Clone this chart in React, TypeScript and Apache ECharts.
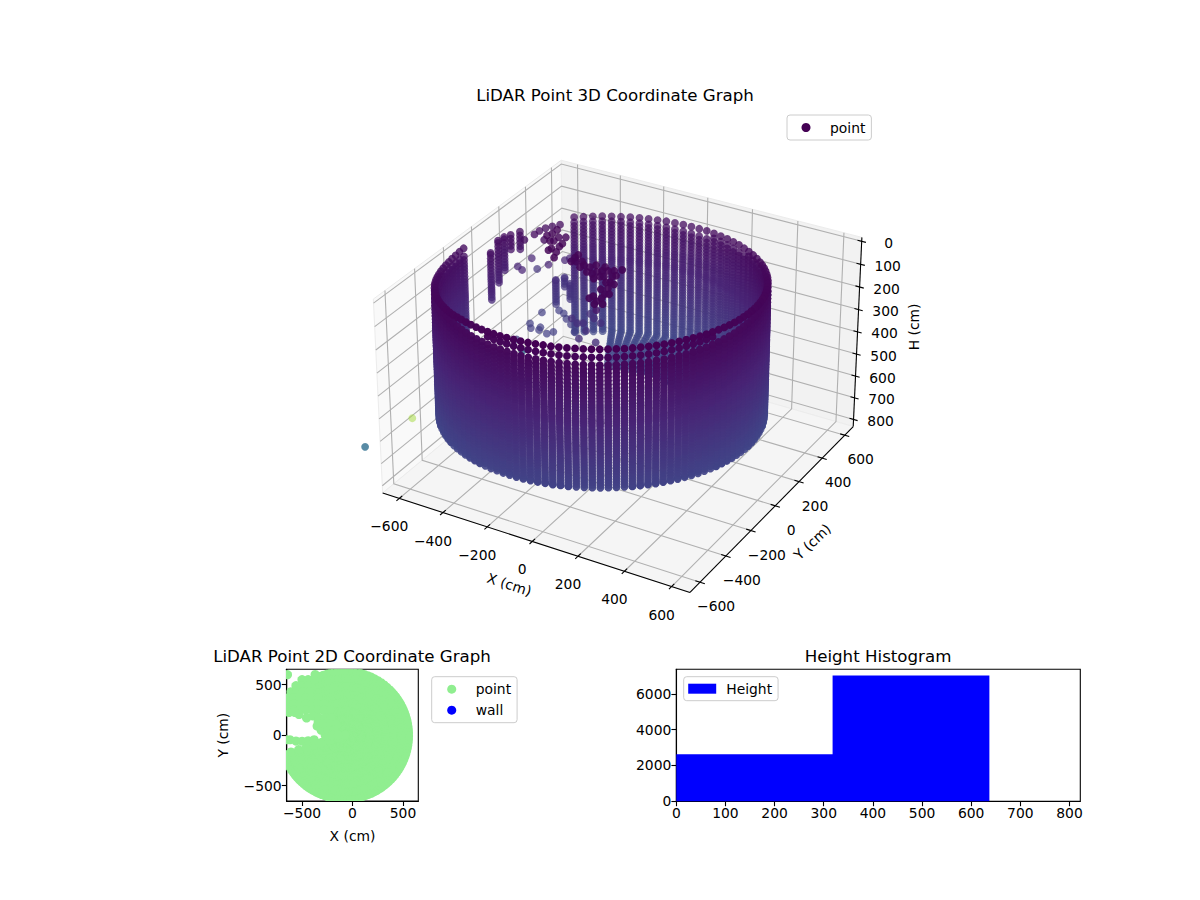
import { useEffect, useRef } from 'react'
import * as echarts from 'echarts'

const FONT = '"DejaVu Sans", sans-serif'
const LABEL_SIZE = 13.89

// 3D axis ticks and limits (cm), H runs downwards
const xyTicks = [-600, -400, -200, 0, 200, 400, 600]
const heightTicks = [0, 100, 200, 300, 400, 500, 600, 700, 800]
const XY_LIMIT = 677
const H_TOP = -17
const H_BOTTOM = 833

// wall columns: azimuth (deg), height of first and last row (cm)
const WALL_CENTER = [-90, -5]
const WALL_RADIUS = 635
const wallAzimuths = [
  130.2, 126.8, 123.4, 120.0, 116.6, 113.2, 109.8, 106.4, 103.0, 99.6, 96.2, 92.8, 89.4, 86.0, 82.6, 79.2,
  75.8, 72.4, 69.0, 65.6, 62.2, 58.8, 55.4, 52.0, 48.6, 45.2,
  42.5, 39.8, 37.1, 34.4, 31.7, 29.0, 26.3, 23.6, 20.9, 18.2, 15.5, 12.8, 10.1, 7.4, 4.7, 2.0,
  -0.7, -3.4, -6.1, -8.8, -11.5, -14.2, -16.9, -19.6, -22.3, -25.0, -27.7, -30.4, -33.1, -35.8, -38.5, -41.2,
  -43.9, -46.6, -49.3, -52.0, -54.7, -57.4, -60.1, -62.8, -65.5, -68.2, -70.9, -73.6, -76.3, -79.0, -81.7, -84.4,
  -87.1, -89.8, -92.5, -95.2, -97.9, -100.6, -103.3, -106.0, -108.7, -111.4, -114.1, -116.8, -119.5, -122.2, -124.9, -127.6,
  -130.3, -133.0, -135.7, -138.4, -141.1, -143.8, -146.5, -149.2, -151.9, -154.6, -157.3, -160.0, -162.7, -165.4, -168.1, -170.8,
  -173.5, -176.2, -178.9, -181.6
]
const wallRims = [
  109, 110, 110, 110, 110, 110, 109, 108, 108, 107, 105, 104, 102, 101, 99, 96,
  94, 92, 90, 87, 84, 82, 79, 76, 73, 70,
  67, 64, 62, 60, 57, 55, 52, 50, 47, 44, 42, 39, 37, 34, 32, 29,
  27, 25, 23, 21, 19, 17, 15, 13, 12, 10, 8, 7, 6, 5, 4, 3,
  2, 1, 1, 1, 0, 0, 0, 0, 0, 0, 1, 1, 2, 2, 3, 4,
  6, 7, 8, 10, 11, 13, 15, 17, 19, 21, 23, 27, 31, 35, 38, 42,
  46, 50, 54, 58, 63, 67, 71, 75, 80, 84, 88, 91, 94, 97, 99, 100,
  100, 100, 98, 96
]
const wallBases = [
  636, 636, 636, 636, 636, 636, 636, 636, 636, 636, 636, 636, 636, 636, 636, 636,
  636, 636, 636, 636, 636, 636, 636, 636, 636, 636,
  636, 636, 636, 636, 636, 635, 633, 631, 629, 627, 625, 623, 621, 619, 617, 615,
  613, 611, 609, 608, 606, 604, 603, 601, 600, 599, 597, 596, 595, 594, 593, 593,
  592, 591, 591, 590, 590, 590, 590, 590, 590, 590, 591, 591, 592, 592, 593, 594,
  595, 596, 597, 598, 599, 601, 602, 604, 605, 607, 609, 610, 612, 614, 616, 618,
  620, 622, 624, 627, 629, 631, 633, 635, 636, 636, 636, 636, 636, 636, 636, 636,
  636, 636, 636, 636
]
const rowHeights = [
  0, 34, 66, 84, 100, 116, 132, 148, 164, 178, 192, 206, 220, 234, 246, 258, 270, 282, 294, 304, 314, 325, 338, 350, 362, 374, 386,
  398, 410, 422, 434, 446, 458, 470, 482, 494, 506, 518, 530, 542, 554, 566, 578, 590, 602, 614, 626, 636
]

// floor behind the far wall, seen through the ring
const floorAzimuths = [
  116.6, 113.2, 109.8, 106.4, 103.0, 99.6, 96.2, 92.8, 89.4, 86.0, 82.6, 79.2, 75.8,
  72.4, 69.0, 65.6, 62.2, 58.8, 55.4, 52.0, 48.6, 45.2, 41.8, 38.4, 35.0, 31.6
]
const floorRadii = [615, 595, 575, 555, 535, 515, 495, 470, 445, 415, 385, 350]
const FLOOR_HEIGHT = 636

// short columns around the gap in the far-left wall
const shortX = [-658, -653, -665, -629, -612, -567, -580, -517]
const shortY = [103, 151, 215, 207, 249, 443, 533, 472]
const shortTop = [140, 106, 122, 100, 100, 394, 428, 412]
const shortBottom = [355, 294, 278, 172, 180, 506, 472, 488]

// loose points inside the ring
const looseX = [
  -560, -550, -549, -540, -525, -506, -493, -655, -667, -636, -568, -531, -522, -737,
  -422, -385, -361, -384, -342, -329, -398, -344, -432, -422, -363, -360, -312,
  -242, -223, -186, -181, -144, -119, -111, -98, -103, -78, -58, -35, -41, -25, -8, 5, 10, 5, -25,
  -153, -141, -82, -68, -94, -243, -203, -239, -32, -38, -4, -28, 19, 10, 37, -30,
  -571, -542, -509, -469, -425, -623, -617, -594, -564, -557, -514, -499, -595, -912,
  -352, -313, -293, -252, -275, -233, -308, -118, -172, -244
]
const looseY = [
  199, 258, 294, 326, 353, 381, 238, 403, 315, 298, 390, 456, 480, 575,
  184, 135, 77, 170, 105, 60, 127, 131, 161, 221, 58, 184, 16,
  56, 31, -1, 21, -21, -24, -1, 15, 47, 27, 39, 60, -5, -50, -94, -140, -173, -202, -174,
  18, 44, -28, -21, -54, 82, 43, 22, 8, -58, -55, -114, -132, -226, -211, -196,
  472, 461, 427, 396, 350, 423, 320, 289, 314, 292, 282, 308, 181, 96,
  209, 186, 198, 151, 253, 233, 278, 4, 90, 83
]
const looseH = [
  100, 100, 100, 100, 100, 100, 100, 300, 300, 300, 300, 300, 300, 450,
  30, 30, 30, 30, 30, 30, 30, 30, 30, 30, 30, 30, 30,
  30, 30, 30, 30, 30, 30, 30, 30, 30, 30, 30, 30, 30, 30, 30, 30, 30, 30, 30,
  30, 30, 30, 30, 30, 30, 30, 30, 30, 30, 30, 30, 30, 30, 30, 30,
  550, 550, 550, 550, 550, 550, 550, 550, 550, 550, 550, 550, 550, 550,
  400, 400, 400, 400, 400, 400, 400, 200, 400, 400
]

// stray points outside the ring with their own colour position and opacity
const strayX = [-512, -761, -572]
const strayY = [-1005, -335, 187]
const strayH = [400, 700, 600]
const strayTone = [0.36, 0.86, 0.34]
const strayAlpha = [0.8, 0.5, 0.8]

// plan view: rings around the centre plus the patch left of the notch
const PLAN_CENTER = [-75, 0]
const PLAN_MARKER_R = 4.6
const planRadii = [630, 560, 480, 400, 320, 240, 160, 80, 0]
const planX = [
  -370, -500, -440, -380, -560, -500, -440, -610, -550, -490, -430,
  -640, -580, -520, -460, -400, -340, -640, -580, -520, -460, -400, -340, -280,
  -640, -580, -520, -460, -400, -340, -280, -220, -630, -570, -530, -455, -390, -340, -350, -310, -270, -250,
  -330, -270, -210, -280, -220, -160, -240, -180, -200, -140,
  -660, -620, -560, -500, -440, -380, -320, -645
]
const planY = [
  600, 550, 550, 550, 490, 490, 490, 430, 430, 430, 430,
  370, 370, 370, 370, 370, 370, 310, 310, 310, 310, 310, 310, 310,
  250, 250, 250, 250, 250, 250, 250, 250, 225, 225, 205, 170, 190, 130, 90, 50, 0, -20,
  170, 170, 170, 110, 110, 110, 50, 50, 0, 0,
  -45, -45, -58, -60, -55, -45, -80, 599
]
const planTicks = [-500, 0, 500]

// histogram of heights
const binStarts = [0, 318, 636]
const binEnds = [318, 636, 822]
const binCounts = [2630, 7019, 0]
const histXTicks = [0, 100, 200, 300, 400, 500, 600, 700, 800]
const histYTicks = [0, 2000, 4000, 6000]

const VIRIDIS = [
  [68, 1, 84], [72, 36, 117], [65, 68, 135], [53, 95, 141], [42, 120, 142], [33, 145, 140],
  [34, 168, 132], [68, 191, 112], [122, 209, 81], [189, 223, 38], [253, 231, 37]
]

function viridis(t: number, alpha: number) {
  const pos = Math.min(Math.max(t, 0), 1) * (VIRIDIS.length - 1)
  const i = Math.min(Math.floor(pos), VIRIDIS.length - 2)
  const f = pos - i
  const c = VIRIDIS[i].map((v, k) => Math.round(v + (VIRIDIS[i + 1][k] - v) * f))
  return `rgba(${c[0]},${c[1]},${c[2]},${alpha})`
}

// camera as in a default mplot3d view (elev 30, azim -60), data in cm
const CM_TO_WORLD = 0.595 / XY_LIMIT
const H_SPAN = H_BOTTOM - H_TOP
const PX_PER_UNIT = 2948
const ORIGIN_PX = [622.3, 365.2]

function project(x: number, y: number, h: number) {
  const dx = x * CM_TO_WORLD
  const dy = y * CM_TO_WORLD
  const dz = 0.375 - ((h - H_TOP) / H_SPAN) * 0.75
  const depth = 10 - (0.433 * dx - 0.75 * dy + 0.5 * dz)
  return [(0.866 * dx + 0.5 * dy) / depth, (-0.25 * dx + 0.433 * dy + 0.866 * dz) / depth, depth]
}

function shadePoint(x: number, y: number, h: number, tone?: number, alpha?: number) {
  const [u, v, depth] = project(x, y, h)
  const far = Math.min(Math.max((depth - 9.45) / 1.05, 0), 1)
  return [u, v, tone ?? h / 3000, alpha ?? 1 - 0.3 * far, depth]
}

function buildCloud() {
  const cloud: number[][] = []
  wallAzimuths.forEach((az, i) => {
    const a = (az * Math.PI) / 180
    const x = WALL_CENTER[0] + WALL_RADIUS * Math.cos(a)
    const y = WALL_CENTER[1] + WALL_RADIUS * Math.sin(a)
    cloud.push(shadePoint(x, y, wallRims[i]))
    rowHeights
      .filter(h => h > wallRims[i] + 20 && h < wallBases[i])
      .forEach(h => cloud.push(shadePoint(x, y, h)))
    cloud.push(shadePoint(x, y, wallBases[i]))
  })
  floorAzimuths.forEach(az => {
    const a = (az * Math.PI) / 180
    floorRadii.forEach(r => {
      cloud.push(shadePoint(WALL_CENTER[0] + r * Math.cos(a), WALL_CENTER[1] + r * Math.sin(a), FLOOR_HEIGHT))
    })
  })
  shortX.forEach((x, i) => {
    cloud.push(shadePoint(x, shortY[i], shortTop[i]))
    rowHeights
      .filter(h => h > shortTop[i] && h <= shortBottom[i])
      .forEach(h => cloud.push(shadePoint(x, shortY[i], h)))
  })
  looseX.forEach((x, i) => cloud.push(shadePoint(x, looseY[i], looseH[i])))
  strayX.forEach((x, i) => cloud.push(shadePoint(x, strayY[i], strayH[i], strayTone[i], strayAlpha[i])))
  return cloud.sort((p, q) => q[4] - p[4])
}

function buildPlan() {
  const plan: number[][] = []
  wallAzimuths
    .filter(az => az > -165)
    .forEach(az => {
      const a = (az * Math.PI) / 180
      planRadii.forEach(r => plan.push([PLAN_CENTER[0] + r * Math.cos(a), PLAN_CENTER[1] + r * Math.sin(a)]))
    })
  planX.forEach((x, i) => plan.push([x, planY[i]]))
  return plan
}

type P3 = [number, number, number]
const L = XY_LIMIT

const panes: { corners: P3[]; fill: string }[] = [
  { corners: [[-L, -L, H_BOTTOM], [-L, L, H_BOTTOM], [-L, L, H_TOP], [-L, -L, H_TOP]], fill: '#f9f9f9' },
  { corners: [[-L, L, H_BOTTOM], [L, L, H_BOTTOM], [L, L, H_TOP], [-L, L, H_TOP]], fill: '#f2f2f2' },
  { corners: [[-L, -L, H_BOTTOM], [L, -L, H_BOTTOM], [L, L, H_BOTTOM], [-L, L, H_BOTTOM]], fill: '#f5f5f5' }
]

const gridPaths: P3[][] = [
  ...xyTicks.map(t => [[t, -L, H_BOTTOM], [t, L, H_BOTTOM], [t, L, H_TOP]] as P3[]),
  ...xyTicks.map(t => [[L, t, H_BOTTOM], [-L, t, H_BOTTOM], [-L, t, H_TOP]] as P3[]),
  ...heightTicks.map(t => [[-L, -L, t], [-L, L, t], [L, L, t]] as P3[])
]

const axisPaths: P3[][] = [
  [[-L, -L, H_BOTTOM], [L, -L, H_BOTTOM]],
  [[L, -L, H_BOTTOM], [L, L, H_BOTTOM]],
  [[L, L, H_TOP], [L, L, H_BOTTOM]],
  ...xyTicks.map(t => [[t, -L - 20, H_BOTTOM], [t, -L + 20, H_BOTTOM]] as P3[]),
  ...xyTicks.map(t => [[L - 20, t, H_BOTTOM], [L + 20, t, H_BOTTOM]] as P3[]),
  ...heightTicks.map(t => [[L - 18, L, t], [L + 18, L, t]] as P3[])
]

const minusSign = (v: number) => String(v).replace('-', '\u2212')

const axisTexts: { text: string; at: P3; dx: number; dy: number; rotation?: number }[] = [
  ...xyTicks.map(t => ({ text: minusSign(t), at: [t, -L, H_BOTTOM] as P3, dx: -10, dy: 28 })),
  ...xyTicks.map(t => ({ text: minusSign(t), at: [L, t, H_BOTTOM] as P3, dx: 16, dy: 24 })),
  ...heightTicks.map(t => ({ text: String(t), at: [L, L, t] as P3, dx: 27, dy: 1.5 })),
  { text: 'X (cm)', at: [0, -L, H_BOTTOM], dx: -23, dy: 43, rotation: -0.31 },
  { text: 'Y (cm)', at: [L, 0, H_BOTTOM], dx: 37, dy: 36, rotation: 0.76 },
  { text: 'H (cm)', at: [L, L, 400], dx: 56, dy: -5, rotation: Math.PI / 2 }
]

const toPx = (api: any, p: P3) => {
  const [u, v] = project(p[0], p[1], p[2])
  return api.coord([u, v])
}

const indexData = (list: unknown[]) => list.map((_, i) => [i, 0])

const planeSeries = {
  type: 'custom' as const,
  coordinateSystem: 'cartesian2d',
  xAxisIndex: 2,
  yAxisIndex: 2,
  clip: false,
  silent: true,
  encode: { x: 0, y: 1 }
}

function buildOption(): echarts.EChartsOption {
  const thinAxis = {
    axisLine: { show: true, onZero: false, lineStyle: { color: '#000', width: 1.1 } },
    axisTick: { show: true, length: 4.9, lineStyle: { color: '#000', width: 1.1 } },
    splitLine: { show: false },
    nameTextStyle: { color: '#000', fontSize: LABEL_SIZE, fontFamily: FONT }
  }
  const tickLabel = { color: '#000', fontSize: LABEL_SIZE, fontFamily: FONT, margin: 5 }
  const legendBase = {
    orient: 'vertical' as const,
    selectedMode: false,
    backgroundColor: 'rgba(255,255,255,0.8)',
    borderColor: '#ccc',
    borderWidth: 1,
    borderRadius: 3,
    itemWidth: 28,
    itemHeight: 9,
    itemGap: 7,
    textStyle: { color: '#000', fontSize: LABEL_SIZE, fontFamily: FONT, padding: [0, 0, 0, 5] }
  }
  const titleBase = {
    padding: 0,
    textVerticalAlign: 'middle' as const,
    textAlign: 'center' as const,
    textStyle: { color: '#000', fontSize: 16.67, fontWeight: 'normal' as const, fontFamily: FONT }
  }

  return {
    animation: false,
    backgroundColor: '#fff',
    title: [
      { ...titleBase, text: 'LiDAR Point 3D Coordinate Graph', left: 615, top: 95 },
      { ...titleBase, text: 'LiDAR Point 2D Coordinate Graph', left: 352, top: 656 },
      { ...titleBase, text: 'Height Histogram', left: 878, top: 656 }
    ],
    legend: [
      {
        ...legendBase,
        left: 787,
        top: 115,
        padding: [5.5, 6, 5.5, 14.5],
        data: [{ name: 'point', icon: 'circle', itemStyle: { color: '#440154', opacity: 1 } }]
      },
      {
        ...legendBase,
        left: 431.7,
        top: 676.7,
        padding: [5.5, 6, 5.5, 15.5],
        data: [
          { name: 'point', icon: 'circle', itemStyle: { color: '#90ee90', opacity: 1 } },
          { name: 'wall', icon: 'circle', itemStyle: { color: '#0000ff', opacity: 1 } }
        ]
      },
      {
        ...legendBase,
        left: 683.7,
        top: 676.7,
        padding: [5, 6, 5, 4.5],
        itemHeight: 10,
        data: [{ name: 'Height', icon: 'rect', itemStyle: { color: '#0000ff', opacity: 1 } }]
      }
    ],
    grid: [
      { left: 286.7, top: 669.3, width: 131.6, height: 131.8, show: true, borderColor: '#000', borderWidth: 1.1, backgroundColor: 'transparent' },
      { left: 676.3, top: 669.3, width: 404, height: 132, show: true, borderColor: '#000', borderWidth: 1.1, backgroundColor: 'transparent' },
      { left: 0, top: 0, width: 1200, height: 900 }
    ],
    xAxis: [
      {
        ...thinAxis,
        type: 'value',
        gridIndex: 0,
        min: -652,
        max: 652,
        name: 'X (cm)',
        nameLocation: 'middle',
        nameGap: 28,
        axisTick: { ...thinAxis.axisTick, customValues: planTicks },
        axisLabel: { ...tickLabel, customValues: planTicks, formatter: (v: number) => minusSign(v) }
      },
      {
        ...thinAxis,
        type: 'value',
        gridIndex: 1,
        min: 0,
        max: 822,
        axisTick: { ...thinAxis.axisTick, customValues: histXTicks },
        axisLabel: { ...tickLabel, customValues: histXTicks, formatter: (v: number) => String(v) }
      },
      { type: 'value', gridIndex: 2, show: false, min: -ORIGIN_PX[0] / PX_PER_UNIT, max: (1200 - ORIGIN_PX[0]) / PX_PER_UNIT }
    ],
    yAxis: [
      {
        ...thinAxis,
        type: 'value',
        gridIndex: 0,
        min: -652,
        max: 652,
        name: 'Y (cm)',
        nameLocation: 'middle',
        nameGap: 57,
        axisTick: { ...thinAxis.axisTick, customValues: planTicks },
        axisLabel: { ...tickLabel, customValues: planTicks, formatter: (v: number) => minusSign(v) }
      },
      {
        ...thinAxis,
        type: 'value',
        gridIndex: 1,
        min: 0,
        max: 7370,
        axisTick: { ...thinAxis.axisTick, customValues: histYTicks },
        axisLabel: { ...tickLabel, customValues: histYTicks, formatter: (v: number) => String(v) }
      },
      { type: 'value', gridIndex: 2, show: false, min: (ORIGIN_PX[1] - 900) / PX_PER_UNIT, max: ORIGIN_PX[1] / PX_PER_UNIT }
    ],
    series: [
      {
        ...planeSeries,
        z: 1,
        data: indexData(panes),
        renderItem: (params: any, api: any) => ({
          type: 'polygon',
          shape: { points: panes[params.dataIndex].corners.map(p => toPx(api, p)) },
          style: { fill: panes[params.dataIndex].fill, stroke: '#ececec', lineWidth: 1 }
        })
      },
      {
        ...planeSeries,
        z: 1,
        data: indexData(gridPaths),
        renderItem: (params: any, api: any) => ({
          type: 'polyline',
          shape: { points: gridPaths[params.dataIndex].map(p => toPx(api, p)) },
          style: { fill: 'none', stroke: '#b0b0b0', lineWidth: 1.1 }
        })
      },
      {
        ...planeSeries,
        z: 1,
        data: indexData(axisPaths),
        renderItem: (params: any, api: any) => ({
          type: 'polyline',
          shape: { points: axisPaths[params.dataIndex].map(p => toPx(api, p)) },
          style: { fill: 'none', stroke: '#000', lineWidth: 1.1 }
        })
      },
      {
        ...planeSeries,
        z: 3,
        data: indexData(axisTexts),
        renderItem: (params: any, api: any) => {
          const item = axisTexts[params.dataIndex]
          const [px, py] = toPx(api, item.at)
          return {
            type: 'text',
            x: px + item.dx,
            y: py + item.dy,
            rotation: item.rotation ?? 0,
            style: {
              text: item.text,
              align: 'center',
              verticalAlign: 'middle',
              fontSize: LABEL_SIZE,
              fontFamily: FONT,
              fill: '#000'
            }
          }
        }
      },
      {
        name: 'point',
        type: 'scatter',
        xAxisIndex: 2,
        yAxisIndex: 2,
        z: 2,
        silent: true,
        clip: false,
        progressive: 0,
        symbol: 'circle',
        symbolSize: 7.8,
        encode: { x: 0, y: 1 },
        itemStyle: { opacity: 1, color: (p: any) => viridis(p.value[2], p.value[3]) },
        data: buildCloud()
      },
      {
        name: 'point',
        type: 'custom',
        coordinateSystem: 'cartesian2d',
        xAxisIndex: 0,
        yAxisIndex: 0,
        silent: true,
        clip: true,
        encode: { x: 0, y: 1 },
        data: buildPlan(),
        renderItem: (_params: any, api: any) => {
          const [cx, cy] = api.coord([api.value(0), api.value(1)])
          return { type: 'circle', shape: { cx, cy, r: PLAN_MARKER_R }, style: { fill: '#90ee90' } }
        }
      },
      {
        name: 'wall',
        type: 'scatter',
        xAxisIndex: 0,
        yAxisIndex: 0,
        itemStyle: { color: '#0000ff', opacity: 1 },
        data: []
      },
      {
        name: 'Height',
        type: 'custom',
        coordinateSystem: 'cartesian2d',
        xAxisIndex: 1,
        yAxisIndex: 1,
        silent: true,
        encode: { x: [0, 1], y: 2 },
        data: binStarts.map((start, i) => [start, binEnds[i], binCounts[i]]),
        renderItem: (_params: any, api: any) => {
          if (!api.value(2)) return null
          const low = api.coord([api.value(0), 0])
          const high = api.coord([api.value(1), api.value(2)])
          return {
            type: 'rect',
            shape: { x: low[0], y: high[1], width: high[0] - low[0] + 0.5, height: low[1] - high[1] },
            style: { fill: '#0000ff' }
          }
        }
      }
    ]
  } as echarts.EChartsOption
}

export default function App() {
  const chartRef = useRef<HTMLDivElement>(null)

  useEffect(() => {
    if (!chartRef.current) return
    const chart = echarts.init(chartRef.current, null, { renderer: 'svg' })
    chart.setOption(buildOption())
    return () => chart.dispose()
  }, [])

  return <div ref={chartRef} style={{ position: 'fixed', left: 0, top: 0, width: 1200, height: 900 }} />
}
